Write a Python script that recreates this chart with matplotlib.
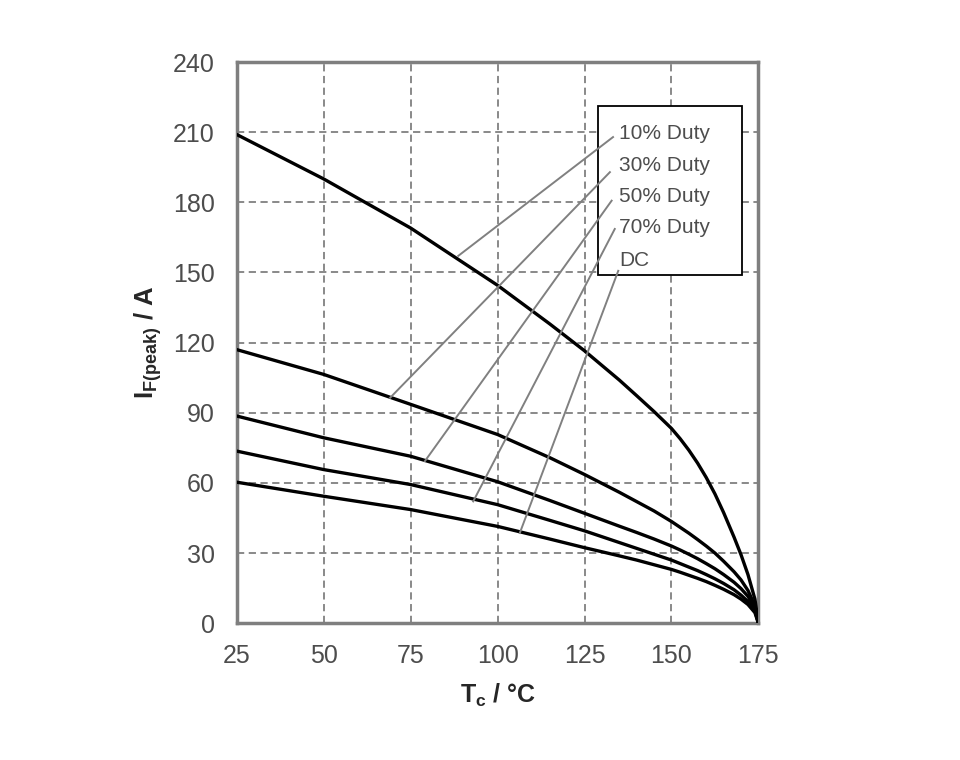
import matplotlib
matplotlib.use("Agg")
import matplotlib.pyplot as plt
from matplotlib.patches import Rectangle

plt.rcParams['font.family'] = ['Liberation Sans', 'DejaVu Sans']
plt.rcParams['mathtext.fontset'] = 'custom'
plt.rcParams['mathtext.rm'] = 'Liberation Sans'
plt.rcParams['mathtext.bf'] = 'Liberation Sans:bold'

# Case temperature (deg C) at which the curves were read
tc = [25, 50, 75, 100, 115, 125, 135, 140, 145, 150, 152.5, 155, 157.5, 160,
      162.5, 165, 168, 170, 172, 174, 175]

# Peak forward current (A) per duty cycle
duty_10 = [209, 190, 169, 144.5, 128, 116.5, 104, 97.3, 90.5, 83.3, 78.9, 74, 68.5, 62.3,
           55.3, 47.3, 36.8, 29.3, 20.8, 10.3, 0]
duty_30 = [117, 106.4, 93.6, 80.7, 70.8, 63.6, 56, 52, 48, 43.5, 41, 38.5, 35.8, 33,
           30, 26.5, 22, 18.5, 14, 7.5, 0]
duty_50 = [88.6, 79.3, 71.4, 60.5, 52.5, 47, 41.5, 38.8, 36, 33, 31.3, 29.5, 27.6, 25.5,
           23.3, 20.8, 17.5, 14.8, 11.5, 6.5, 0]
duty_70 = [73.6, 65.7, 59.3, 50.7, 44, 39.5, 34.5, 32, 29.5, 27, 25.5, 24, 22.5, 20.8,
           19, 17, 14.3, 12, 9.3, 5.3, 0]
dc = [60.3, 54.3, 48.6, 41.4, 36, 32.3, 28.8, 27, 25, 23, 21.8, 20.5, 19.2, 17.8,
      16.2, 14.5, 12.2, 10.3, 8, 4.5, 0]

labels = ["10% Duty", "30% Duty", "50% Duty", "70% Duty", "DC"]
series = [duty_10, duty_30, duty_50, duty_70, dc]

# leader lines: (label end) -> (point on curve)
leader_start = [(133.2, 207.9), (132.3, 192.9), (132.8, 180.7), (133.7, 168.6), (134.7, 150.7)]
leader_end = [(88.7, 157.1), (69.1, 96.4), (79.1, 69.3), (93.0, 52.1), (106.4, 38.6)]
label_y = [209.3, 195.7, 182.4, 169.3, 155.0]

fig = plt.figure(figsize=(9.6, 7.6), dpi=100)
ax = fig.add_axes([0.2466, 0.18, 0.5434, 0.7384])

for ys in series:
    ax.plot(tc, ys, color='black', lw=2.4, solid_joinstyle='round', zorder=3)

ax.set_xlim(25, 175)
ax.set_ylim(0, 240)
ax.set_xticks(range(25, 176, 25))
ax.set_yticks(range(0, 241, 30))
ax.grid(True, color='#808080', ls=(0, (4, 2.5)), lw=1.3)
ax.tick_params(length=0, labelsize=18, labelcolor='#4d4d4d')
ax.tick_params(axis='y', pad=16)
ax.tick_params(axis='x', pad=15)
for s in ax.spines.values():
    s.set_color('#7f7f7f')
    s.set_linewidth(2.5)

# label box covers the grid
box = Rectangle((128.9, 149.0), 41.4, 72.2, facecolor='white', edgecolor='black',
                lw=1.3, zorder=4)
ax.add_patch(box)
for (x0, y0), (x1, y1) in zip(leader_start, leader_end):
    ax.plot([x0, x1], [y0, y1], color='#808080', lw=1.4, zorder=5)
for lab, y in zip(labels, label_y):
    ax.text(135.0, y, lab, fontsize=15, color='#4d4d4d', va='center', ha='left', zorder=6)

ax.set_xlabel(r'$\mathbf{T_c}$ / °C', fontsize=18, fontweight='bold', color='#262626', labelpad=10)
ax.set_ylabel(r'$\mathbf{I_{F(peak)}}$ / A', fontsize=18.5, fontweight='bold', color='#262626', labelpad=6)

fig.savefig('out.png', dpi=100)
